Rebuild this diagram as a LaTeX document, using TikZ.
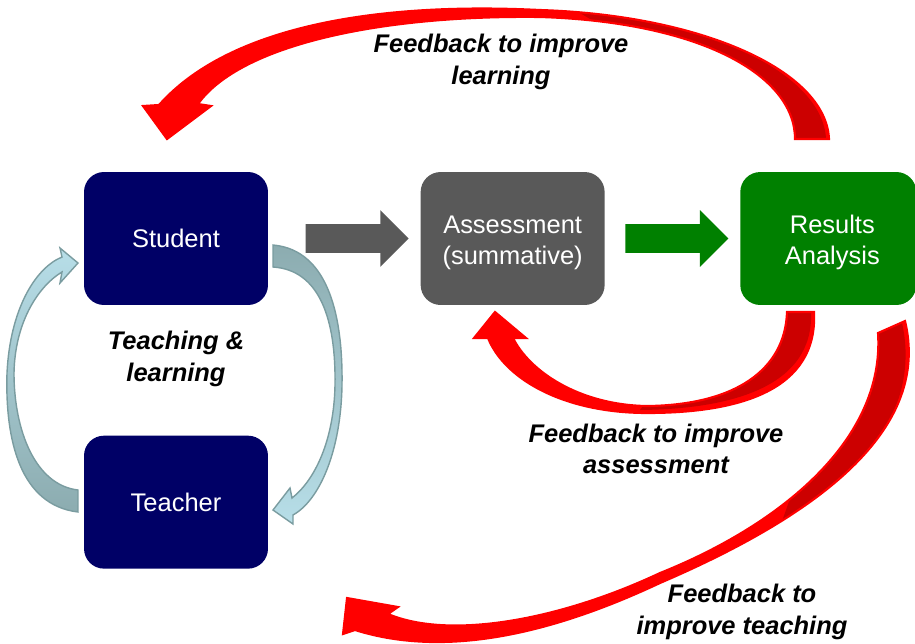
\documentclass[tikz,border=0pt]{standalone}
\usepackage{fontspec}
\setmainfont{Liberation Sans}
\usetikzlibrary{positioning}
\usetikzlibrary{shapes.arrows}
\tikzset{boxtext/.style = {inner sep = 0, text = white, align = center, font = \fontsize{14.5}{17.5}\selectfont}}
\tikzset{box/.style = {boxtext, rounded corners = 0.4cm, minimum width = 3.68cm, minimum height = 2.66cm}}
\tikzset{lbl/.style = {align = center, inner sep = 0, font = \fontsize{14.5}{18}\selectfont\bfseries\itshape}}
\tikzset{fatarrow/.style = {single arrow, minimum height = 2.06cm, minimum width = 1.12cm,
                            single arrow head extend = 0.28cm, inner xsep = 0, inner ysep = 0.28cm}}
\tikzset{loopup/.style = {top color = mlight, bottom color = mteal, draw = mrim, line width = 0.8pt}}
\tikzset{loopdown/.style = {top color = mteal, bottom color = mlight, draw = mrim, line width = 0.8pt}}
\tikzset{rim/.style = {draw = mred, line width = 1.2pt}}
\definecolor{mnavy}{RGB}{0, 0, 102}
\definecolor{mgrey}{RGB}{89, 89, 89}
\definecolor{mgreen}{RGB}{0, 128, 0}
\definecolor{mred}{RGB}{255, 0, 0}
\definecolor{mdark}{RGB}{204, 0, 0}
\definecolor{mlight}{RGB}{183, 222, 232}
\definecolor{mteal}{RGB}{140, 172, 176}
\definecolor{mrim}{RGB}{122, 156, 160}
\newcommand{\arcLearn}{(829, 139) .. controls (826, 70) and (700, 15) .. (540, 10)
  .. controls (380, 2) and (230, 25) .. (159, 105) -- (143, 106) -- (167, 139) -- (211, 106) -- (198, 104)
  .. controls (240, 45) and (380, 15) .. (540, 17) .. controls (700, 22) and (795, 75) .. (795, 139) -- cycle}
\newcommand{\arcAssess}{(814, 312) .. controls (818, 390) and (740, 413) .. (647, 413)
  .. controls (565, 413) and (505, 380) .. (488, 338) -- (474, 338) -- (495, 312) -- (526, 338) -- (513, 338)
  .. controls (530, 372) and (580, 405) .. (647, 406) .. controls (735, 405) and (785, 370) .. (787, 312) -- cycle}
\newcommand{\arcTeach}{(878, 333) -- (905, 321) .. controls (930, 425) and (830, 510) .. (660, 583)
  .. controls (560, 630) and (450, 660) .. (355, 630) -- (343, 634) -- (347, 598) -- (398, 607) -- (388, 614)
  .. controls (450, 640) and (560, 620) .. (660, 573) .. controls (780, 525) and (885, 440) .. (878, 333) -- cycle}

\begin{document}
\begin{tikzpicture}[x = 0.02cm, y = -0.02cm]
  \useasboundingbox (0, 0) rectangle (915, 643);

  \node [box, fill = mnavy] (student) at (176, 238.5) {Student};
  \node [box, fill = mnavy, below = 2.6cm of student] (teacher) {Teacher};
  \node [box, fill = mgrey, right = 3.04cm of student] (assess) {};
  \node [box, fill = mgreen, right = 2.7cm of assess, minimum width = 3.52cm] (results) {};
  \node [boxtext] (assessText) at ([yshift = -2.3pt] assess.center) {Assessment\\(summative)};
  \node [boxtext] (resultsText) at ([xshift = 2.3pt, yshift = -2.3pt] results.center) {Results\\Analysis};

  \node [fatarrow, fill = mgrey, right = 0.74cm of student] (toAssess) {};
  \node [fatarrow, fill = mgreen, right = 0.4cm of assess] (toResults) {};

  \fill [mred] \arcLearn;
  \begin{scope}
    \clip \arcLearn;
    \fill [mdark] (826, 139) .. controls (823, 72) and (700, 18) .. (580, 13) -- (790, 139) -- cycle;
  \end{scope}
  \path [rim] \arcLearn;
  \fill [mred] \arcAssess;
  \begin{scope}
    \clip \arcAssess;
    \fill [mdark] (811, 312) .. controls (814, 385) and (735, 409) .. (640, 410) -- (720, 300) -- cycle;
  \end{scope}
  \path [rim] \arcAssess;
  \fill [mred] \arcTeach;
  \begin{scope}
    \clip \arcTeach;
    \fill [mdark] (902, 323) .. controls (924, 420) and (840, 497) .. (780, 527) -- (860, 300) -- cycle;
  \end{scope}
  \path [rim] \arcTeach;

  \draw [loopup] (78, 490) -- (78, 512) .. controls (20, 505) and (5, 440) .. (7, 373)
    .. controls (10, 310) and (35, 268) .. (62, 257) -- (60, 248) -- (78, 263) -- (60, 283) -- (62, 272)
    .. controls (40, 285) and (15, 320) .. (14, 373) .. controls (14, 430) and (35, 485) .. (78, 490) -- cycle;
  \draw [loopdown] (273, 245) .. controls (330, 250) and (343, 320) .. (342, 385)
    .. controls (341, 450) and (320, 500) .. (293, 515) -- (293, 524) -- (273, 510) -- (290, 488) -- (292, 498)
    .. controls (315, 480) and (334, 440) .. (335, 385) .. controls (336, 320) and (320, 270) .. (273, 267) -- cycle;

  \node [lbl] (fbLearn) at (501, 62) {Feedback to improve\\learning};
  \node [lbl] (teachLearn) at (176, 359) {Teaching \&\\learning};
  \node [lbl] (fbAssess) at (656, 449) {Feedback to improve\\assessment};
  \node [lbl] (fbTeach) at (742, 612) {Feedback to\\improve teaching};
\end{tikzpicture}
\end{document}
